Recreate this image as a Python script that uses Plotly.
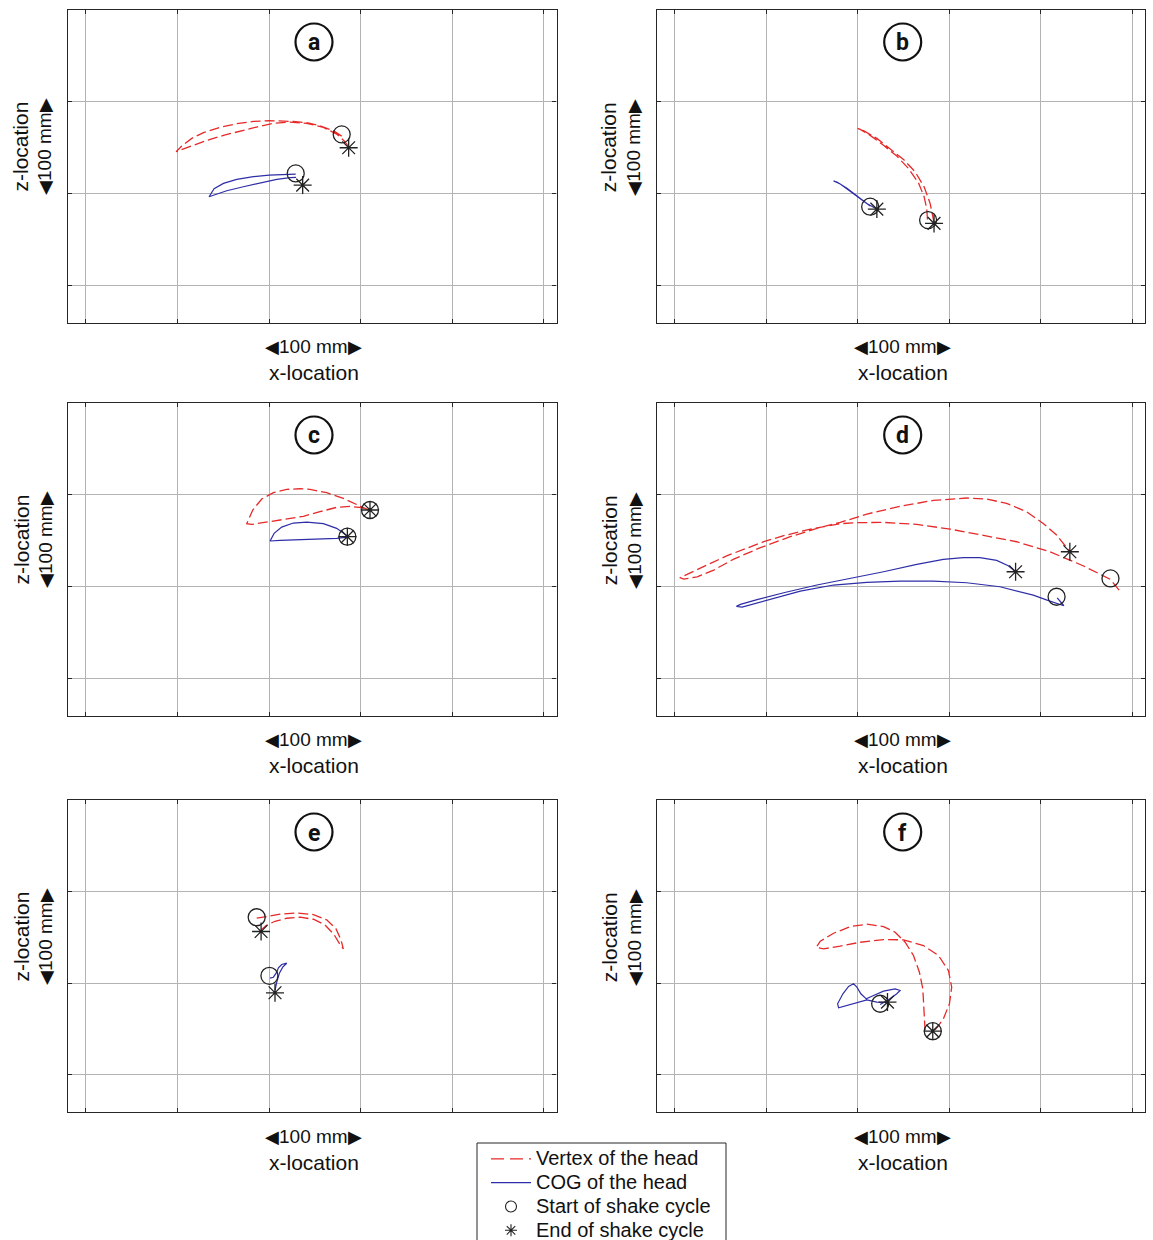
import plotly.graph_objects as go

W, H = 1153, 1240

# ---------------- data (mm) ----------------
# panel a
a_vertex_x = [79.3, 70.2, 55.6, 41.1, 26.5, 12.0, 0.0, -17.1, -35.3, -53.5, -71.6, -84.4, -95.3, -101.5,
              -93.5, -82.5, -68.0, -49.8, -31.6, -13.5, 4.7, 22.9, 41.1, 59.3, 73.8, 81.8, 86.9]
a_vertex_z = [62.5, 68.4, 73.8, 77.1, 78.5, 79.3, 79.3, 78.5, 76.0, 72.0, 66.2, 60.0, 51.6, 45.5,
              48.4, 52.7, 57.8, 63.3, 68.0, 72.4, 76.4, 77.8, 76.4, 72.0, 64.7, 57.5, 50.9]
a_cog_x = [29.1, 15.6, 0.0, -17.1, -35.3, -49.8, -60.0, -65.5, -58.9, -46.2, -28.0, -9.8, 8.4, 22.9, 29.5]
a_cog_z = [21.1, 20.7, 20.0, 18.2, 15.3, 10.9, 5.1, -3.6, -1.1, 2.9, 7.3, 11.6, 15.3, 17.1, 17.5]
a_start_x = [79.3, 29.1]
a_start_z = [64.4, 21.8]
a_end_x = [86.9, 36.7]
a_end_z = [49.8, 9.1]

# panel b
b_vertex_x = [76.4, 75.6, 72.7, 66.5, 55.6, 42.9, 28.4, 13.8, 2.9, 0.0, 6.5, 21.1, 35.6, 50.2, 62.9, 72.7,
              79.3, 82.2, 83.6]
b_vertex_z = [-28.4, -16.4, -3.6, 11.6, 27.3, 40.7, 52.4, 63.3, 69.8, 70.9, 68.4, 60.0, 49.1, 37.1, 23.6, 7.3,
              -10.9, -23.6, -32.0]
b_cog_x = [13.8, 2.9, -8.0, -18.9, -26.2, -22.5, -11.6, -0.7, 10.2, 20.4]
b_cog_z = [-13.8, -5.5, 2.9, 10.2, 13.5, 12.4, 5.5, -2.9, -10.9, -16.7]
b_start_x = [77.1, 13.8]
b_start_z = [-29.1, -14.5]
b_end_x = [83.6, 21.1]
b_end_z = [-32.7, -17.1]

# panel c
c_vertex_x = [109.5, 95.6, 81.1, 62.9, 44.7, 33.8, 19.3, 4.7, -8.0, -17.8, -24.4, -18.9, -2.5, 19.3, 37.5,
              55.6, 73.8, 88.4, 101.1, 110.2]
c_vertex_z = [82.9, 89.5, 96.0, 102.2, 105.8, 106.5, 105.8, 102.2, 95.3, 83.3, 68.4, 67.6, 70.2, 73.1, 76.4,
              81.5, 86.2, 87.3, 85.8, 82.5]
c_cog_x = [85.5, 73.8, 59.3, 41.1, 26.5, 13.8, 5.5, 1.1, 12.0, 33.8, 55.6, 73.8, 85.5]
c_cog_z = [54.9, 63.3, 68.4, 70.2, 69.1, 64.7, 57.8, 49.5, 50.2, 50.9, 51.3, 52.4, 53.8]
c_start_x = [110.2, 85.5]
c_start_z = [83.3, 54.2]
c_end_x = [110.2, 85.5]
c_end_z = [83.3, 54.2]

# panel d
d_vertex_x = [285.8, 276.4, 246.5, 210.2, 173.8, 137.5, 101.1, 64.7, 28.4, -0.7, -18.9, -51.6, -80.7, -102.5,
              -124.4, -142.5, -160.7, -178.9, -191.6, -194.2, -189.8, -175.3, -157.1, -135.3, -106.2, -73.5,
              -44.4, -18.9, 10.2, 46.5, 82.9, 119.3, 141.1, 162.9, 184.7, 202.9, 217.5, 228.4, 232.7]
d_vertex_z = [-4.0, 7.6, 22.5, 37.8, 48.7, 56.0, 62.5, 67.6, 69.8, 69.5, 68.4, 62.5, 55.3, 48.7,
              40.7, 33.5, 25.1, 16.7, 11.3, 9.5, 8.0, 10.5, 17.8, 29.8, 42.2, 54.2,
              63.3, 69.8, 78.9, 87.3, 93.8, 96.4, 95.3, 90.5, 81.5, 68.7, 56.0, 43.3, 37.1]
d_cog_x = [218.2, 225.5, 210.2, 192.0, 155.6, 119.3, 82.9, 46.5, 10.2, -26.2, -62.5, -88.0, -109.8, -126.2,
           -132.4, -128.0, -109.8, -80.7, -44.4, -8.0, 28.4, 64.7, 93.8, 115.6, 133.8, 152.0, 164.7, 172.7]
d_cog_z = [-12.4, -21.1, -16.0, -9.5, -0.4, 4.0, 5.8, 5.8, 4.4, 1.5, -5.1, -12.4, -18.5, -22.5,
           -21.8, -19.6, -14.5, -6.9, 1.5, 8.7, 16.0, 24.0, 29.5, 31.3, 31.3, 28.4, 22.5, 16.0]
d_start_x = [276.4, 217.5]
d_start_z = [8.7, -11.3]
d_end_x = [232.0, 172.7]
d_end_z = [37.8, 16.0]

# panel e
e_vertex_x = [-13.5, -2.5, 12.0, 30.2, 48.4, 62.9, 73.1, 78.5, 81.1, 77.5, 70.9, 61.1, 48.4, 33.8, 19.3, 6.5,
              -3.3, -8.7]
e_vertex_z = [70.9, 73.1, 75.3, 76.7, 74.9, 69.1, 59.3, 47.3, 37.5, 42.2, 53.1, 63.6, 69.8, 72.0, 70.9, 67.6,
              62.9, 58.2]
e_cog_x = [1.1, 4.7, 8.4, 10.2, 13.8, 19.3, 14.9, 11.3, 8.4, 6.5]
e_cog_z = [5.5, 6.5, 12.0, 16.7, 20.4, 21.8, 17.5, 10.9, 1.1, -8.0]
e_start_x = [-13.5, 0.4]
e_start_z = [72.0, 8.0]
e_end_x = [-8.7, 6.5]
e_end_z = [56.4, -10.5]

# panel f
f_vertex_x = [73.8, 73.1, 72.7, 71.3, 67.6, 61.1, 52.0, 41.1, 28.4, 10.2, -8.0, -26.2, -40.7, -45.1, -37.1,
              -18.9, 2.9, 28.4, 50.2, 72.0, 88.4, 99.3, 102.9, 100.4, 93.8, 87.3, 82.2]
f_vertex_z = [-51.6, -37.1, -22.5, -6.2, 12.0, 30.2, 44.7, 55.6, 61.8, 64.4, 61.8, 54.5, 45.8, 39.3, 37.5,
              40.4, 44.7, 47.6, 47.3, 41.1, 30.2, 13.8, -4.4, -22.5, -38.9, -48.0, -53.5]
f_cog_x = [24.7, 33.8, 42.9, 46.5, 41.1, 28.4, 17.5, 9.5, 3.6, -0.7, -4.4, -9.8, -16.0, -21.8, -20.7, -11.6,
           -0.7, 10.2, 21.1, 32.7]
f_cog_z = [-23.3, -18.2, -11.6, -8.0, -6.2, -8.7, -13.5, -17.1, -11.6, -4.4, -0.7, -3.6, -11.6, -22.5, -26.9,
           -24.4, -20.7, -18.2, -20.7, -21.1]
f_start_x = [82.2, 24.7]
f_start_z = [-52.4, -22.5]
f_end_x = [82.2, 32.7]
f_end_z = [-52.4, -20.7]

panel_letters = ["a", "b", "c", "d", "e", "f"]
x_ticks = [-200, -100, 0, 100, 200, 300]
z_ticks = [-100, 0, 100]
x_range = [-219.5, 313.8]
z_range = [-141, 200]
legend_names = ["Vertex of the head", "COG of the head", "Start of shake cycle", "End of shake cycle"]
scale_label = '<span style="font-size:18px">◀</span>100 mm<span style="font-size:18px">▶</span>'
x_title = "x-location"
z_title = "z-location"

panels = [
    (a_vertex_x, a_vertex_z, a_cog_x, a_cog_z, a_start_x, a_start_z, a_end_x, a_end_z),
    (b_vertex_x, b_vertex_z, b_cog_x, b_cog_z, b_start_x, b_start_z, b_end_x, b_end_z),
    (c_vertex_x, c_vertex_z, c_cog_x, c_cog_z, c_start_x, c_start_z, c_end_x, c_end_z),
    (d_vertex_x, d_vertex_z, d_cog_x, d_cog_z, d_start_x, d_start_z, d_end_x, d_end_z),
    (e_vertex_x, e_vertex_z, e_cog_x, e_cog_z, e_start_x, e_start_z, e_end_x, e_end_z),
    (f_vertex_x, f_vertex_z, f_cog_x, f_cog_z, f_start_x, f_start_z, f_end_x, f_end_z),
]

# ---------------- layout geometry (pixels) ----------------
col_lr = [(68.0, 556.5), (656.7, 1144.7)]
row_tb = [(10.0, 322.7), (403.0, 715.7), (800.0, 1112.3)]

RED = "#e62a2a"
BLUE = "#2e2ea8"
FRAME = "#262626"
GRID = "#b4b4b4"
MARK = "#222222"
FONT = "Liberation Sans, Arial, sans-serif"


def px(x):
    return x / W


def py(y):
    return 1 - y / H


fig = go.Figure()
annotations = []
shapes = []
layout_axes = {}

for i, (vx, vz, cx, cz, sx, sz, ex, ez) in enumerate(panels):
    r, c = divmod(i, 2)
    n = "" if i == 0 else str(i + 1)
    xa, ya = "x" + n, "y" + n
    fig.add_trace(go.Scatter(x=vx, y=vz, mode="lines", xaxis=xa, yaxis=ya,
                             line=dict(color=RED, width=1.3, dash="10px,4px"),
                             name=legend_names[0], showlegend=False))
    fig.add_trace(go.Scatter(x=cx, y=cz, mode="lines", xaxis=xa, yaxis=ya,
                             line=dict(color=BLUE, width=1.2),
                             name=legend_names[1], showlegend=False))
    fig.add_trace(go.Scatter(x=sx, y=sz, mode="markers", xaxis=xa, yaxis=ya,
                             marker=dict(symbol="circle-open", size=17, color=MARK,
                                         line=dict(width=1.3, color=MARK)),
                             name=legend_names[2], showlegend=False))
    fig.add_trace(go.Scatter(x=ex, y=ez, mode="markers", xaxis=xa, yaxis=ya,
                             marker=dict(symbol="asterisk-open", size=15, color=MARK,
                                         line=dict(width=1.3, color=MARK)),
                             name=legend_names[3], showlegend=False))

    L, R = col_lr[c]
    T, B = row_tb[r]
    axcommon = dict(showticklabels=False, ticks="inside", ticklen=4, tickcolor=FRAME, tickwidth=1,
                    showgrid=True, gridcolor=GRID, gridwidth=1, showline=True, linecolor=FRAME,
                    linewidth=1.3, mirror="ticks", zeroline=False, fixedrange=True)
    layout_axes["xaxis" + n] = dict(domain=[px(L), px(R)], range=x_range, tickvals=x_ticks,
                                    anchor=ya, **axcommon)
    layout_axes["yaxis" + n] = dict(domain=[py(B), py(T)], range=z_range, tickvals=z_ticks,
                                    anchor=xa, **axcommon)

    cxp = L + 246
    # panel letter in circle
    cy = T + 32
    rad = 18.5
    shapes.append(dict(type="circle", xref="paper", yref="paper",
                       x0=px(cxp - rad), x1=px(cxp + rad), y0=py(cy + rad), y1=py(cy - rad),
                       line=dict(color="#111", width=2.2)))
    annotations.append(dict(text="<b>%s</b>" % panel_letters[i], x=px(cxp), y=py(cy + 1),
                            xref="paper", yref="paper", showarrow=False, xanchor="center",
                            yanchor="middle", font=dict(family="Roboto, sans-serif", size=23, color="#111")))
    # x labels
    annotations.append(dict(text=scale_label, x=px(cxp), y=py(T + 336), xref="paper", yref="paper",
                            showarrow=False, xanchor="center", yanchor="middle",
                            font=dict(family=FONT, size=19, color="#111")))
    annotations.append(dict(text=x_title, x=px(cxp), y=py(T + 362), xref="paper", yref="paper",
                            showarrow=False, xanchor="center", yanchor="middle",
                            font=dict(family=FONT, size=21, color="#111")))
    # z labels
    annotations.append(dict(text=z_title, x=px(L - 47.5), y=py(T + 137), xref="paper", yref="paper",
                            showarrow=False, xanchor="center", yanchor="middle", textangle=-90,
                            font=dict(family=FONT, size=21, color="#111")))
    annotations.append(dict(text=scale_label, x=px(L - 23), y=py(T + 137), xref="paper", yref="paper",
                            showarrow=False, xanchor="center", yanchor="middle", textangle=-90,
                            font=dict(family=FONT, size=19, color="#111")))

# legend-only entries (no data of their own)
fig.add_trace(go.Scatter(x=[None], y=[None], mode="lines", name=legend_names[0],
                         line=dict(color=RED, width=1.2, dash="13px,6px")))
fig.add_trace(go.Scatter(x=[None], y=[None], mode="lines", name=legend_names[1],
                         line=dict(color=BLUE, width=1.2)))
fig.add_trace(go.Scatter(x=[None], y=[None], mode="markers", name=legend_names[2],
                         marker=dict(symbol="circle-open", size=11, color=MARK, line=dict(width=1.1, color=MARK))))
fig.add_trace(go.Scatter(x=[None], y=[None], mode="markers", name=legend_names[3],
                         marker=dict(symbol="asterisk-open", size=10, color=MARK, line=dict(width=1.1, color=MARK))))

for tr in fig.data[-4:]:
    tr.name = '<span style="font-size:20px">%s</span>' % tr.name

# legend frame
shapes.append(dict(type="rect", xref="paper", yref="paper", x0=px(477), x1=px(726),
                   y0=py(1260), y1=py(1143), line=dict(color=FRAME, width=1), layer="below"))

fig.update_layout(
    width=W, height=H,
    margin=dict(l=0, r=0, t=0, b=0, autoexpand=False),
    paper_bgcolor="white", plot_bgcolor="white",
    showlegend=True,
    legend=dict(x=px(486), y=py(1142), xanchor="left", yanchor="top",
                bgcolor="rgba(0,0,0,0)", borderwidth=0,
                font=dict(family=FONT, size=16, color="#111"),
                tracegroupgap=0, itemwidth=40),
    annotations=annotations,
    shapes=shapes,
    **layout_axes,
)

fig.write_html("out.html", config={"displayModeBar": False},
               post_script="document.body.style.margin='0';document.body.style.overflow='hidden';")
